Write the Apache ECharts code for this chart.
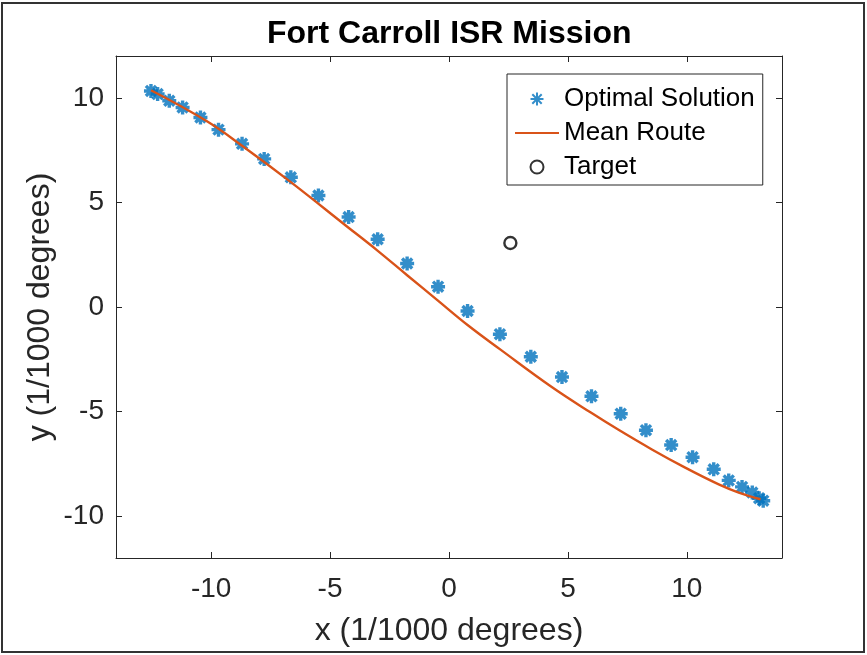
<!DOCTYPE html>
<html>
<head>
<meta charset="utf-8">
<title>Fort Carroll ISR Mission</title>
<script src="https://cdn.jsdelivr.net/npm/echarts@6/dist/echarts.min.js"></script>
<style>
  html, body { margin: 0; padding: 0; background: #fff; }
  #chart { width: 867px; height: 655px; }
</style>
</head>
<body>
<div id="chart"></div>
<script>
// Optimal solution waypoints (x, y in 1/1000 degrees)
const starX = [-12.53, -12.25, -11.76, -11.20, -10.45, -9.69, -8.70, -7.77, -6.65, -5.49,
               -4.22, -3.00, -1.76, -0.46, 0.78, 2.14, 3.44, 4.75, 5.99, 7.22,
               8.28, 9.34, 10.24, 11.13, 11.76, 12.32, 12.75, 13.04, 13.21];
const starY = [10.33, 10.18, 9.86, 9.54, 9.06, 8.48, 7.80, 7.08, 6.20, 5.33,
               4.30, 3.24, 2.08, 0.97, -0.19, -1.30, -2.38, -3.35, -4.27, -5.10,
               -5.89, -6.60, -7.18, -7.76, -8.29, -8.60, -8.87, -9.14, -9.26];

// Mean route
const routeX = [-12.53, -10.21, -8.70, -6.65, -4.29, -3.02, -1.76, -0.49, 0.78, 2.18,
                4.29, 5.98, 7.11, 8.53, 9.93, 11.34, 12.18, 13.10];
const routeY = [10.36, 8.90, 7.71, 5.97, 3.85, 2.71, 1.52, 0.33, -0.86, -2.05,
                -3.80, -5.06, -5.86, -6.81, -7.68, -8.48, -8.87, -9.19];

// Target location
const targetX = [2.58];
const targetY = [3.06];

// Axis ranges and tick labels
const xRange = [-14, 14];
const yRange = [-12, 12];
const xTicks = [-10, -5, 0, 5, 10];
const yTicks = [-10, -5, 0, 5, 10];

const FONT = "'Liberation Sans', Arial, Helvetica, sans-serif";
const AXIS_COLOR = '#262626';
const BLUE = '#0072BD';
const ORANGE = '#D95319';

const zip = (xs, ys) => xs.map((x, i) => [x, ys[i]]);

// Asterisk marker: plus sign combined with a diagonal cross
const ASTERISK = 'path://M0,-1L0,1M-1,0L1,0M-0.72,-0.72L0.72,0.72M-0.72,0.72L0.72,-0.72';
// Flat bar used as the legend swatch of the route line
const LINE_SWATCH = 'path://M0,0L44,0L44,2.2L0,2.2Z';

function axisBase(min, max, ticks, showLabels, extra) {
  return Object.assign({
    type: 'value',
    min: min,
    max: max,
    splitLine: { show: false },
    axisLine: { show: true, onZero: false, lineStyle: { color: AXIS_COLOR, width: 1 } },
    axisTick: { show: true, inside: true, length: 6, customValues: ticks,
                lineStyle: { color: AXIS_COLOR, width: 1 } },
    axisLabel: { show: showLabels, customValues: ticks, color: AXIS_COLOR,
                 fontSize: 28, fontFamily: FONT }
  }, extra || {});
}

const chart = echarts.init(document.getElementById('chart'), null, { renderer: 'canvas' });

chart.setOption({
  backgroundColor: '#fff',
  animation: false,
  title: {
    text: 'Fort Carroll ISR Mission',
    left: 262,
    top: 13,
    textStyle: { fontFamily: FONT, fontWeight: 'bold', fontSize: 32, color: '#000' }
  },
  grid: { left: 116, right: 85, top: 56, bottom: 97, containLabel: false },
  legend: {
    orient: 'vertical',
    left: 507,
    top: 74,
    padding: [12, 8, 5, 8],
    itemWidth: 44,
    itemHeight: 13,
    itemGap: 8,
    backgroundColor: '#fff',
    borderColor: AXIS_COLOR,
    borderWidth: 1,
    borderRadius: 0,
    textStyle: { fontFamily: FONT, fontSize: 26, color: '#000', lineHeight: 26 },
    data: [
      { name: 'Optimal Solution' },
      { name: 'Mean Route', icon: LINE_SWATCH, itemStyle: { color: ORANGE } },
      { name: 'Target' }
    ]
  },
  xAxis: [
    axisBase(xRange[0], xRange[1], xTicks, true, {
      position: 'bottom',
      axisLabel: { show: true, customValues: xTicks, color: AXIS_COLOR, fontSize: 28,
                   fontFamily: FONT, margin: 17 },
      name: 'x (1/1000 degrees)',
      nameLocation: 'middle',
      nameGap: 57,
      nameMoveOverlap: false,
      nameTextStyle: { fontFamily: FONT, fontSize: 32, color: AXIS_COLOR }
    }),
    axisBase(xRange[0], xRange[1], xTicks, false, { position: 'top' })
  ],
  yAxis: [
    axisBase(yRange[0], yRange[1], yTicks, true, {
      position: 'left',
      axisLabel: { show: true, customValues: yTicks, color: AXIS_COLOR, fontSize: 28,
                   fontFamily: FONT, margin: 12 },
      name: 'y (1/1000 degrees)',
      nameLocation: 'middle',
      nameRotate: 90,
      nameGap: 60,
      nameMoveOverlap: false,
      nameTextStyle: { fontFamily: FONT, fontSize: 32, color: AXIS_COLOR }
    }),
    axisBase(yRange[0], yRange[1], yTicks, false, { position: 'right' })
  ],
  series: [
    {
      name: 'Optimal Solution',
      type: 'scatter',
      data: zip(starX, starY),
      symbol: ASTERISK,
      symbolSize: 14,
      itemStyle: { color: BLUE, borderColor: BLUE, borderWidth: 3.4 },
      z: 2
    },
    {
      name: 'Mean Route',
      type: 'line',
      data: zip(routeX, routeY),
      symbol: 'none',
      smooth: 0.4,
      lineStyle: { color: ORANGE, width: 2.4 },
      itemStyle: { color: ORANGE },
      z: 3
    },
    {
      name: 'Target',
      type: 'scatter',
      data: zip(targetX, targetY),
      symbol: 'circle',
      symbolSize: 12,
      itemStyle: { color: 'rgba(255,255,255,0)', borderColor: '#000', borderWidth: 2.4 },
      z: 4
    }
  ],
  graphic: [
    {
      type: 'rect',
      silent: true,
      shape: { x: 2, y: 3, width: 862, height: 649 },
      style: { fill: null, stroke: '#333', lineWidth: 2 },
      z: 100
    }
  ]
});
</script>
</body>
</html>
